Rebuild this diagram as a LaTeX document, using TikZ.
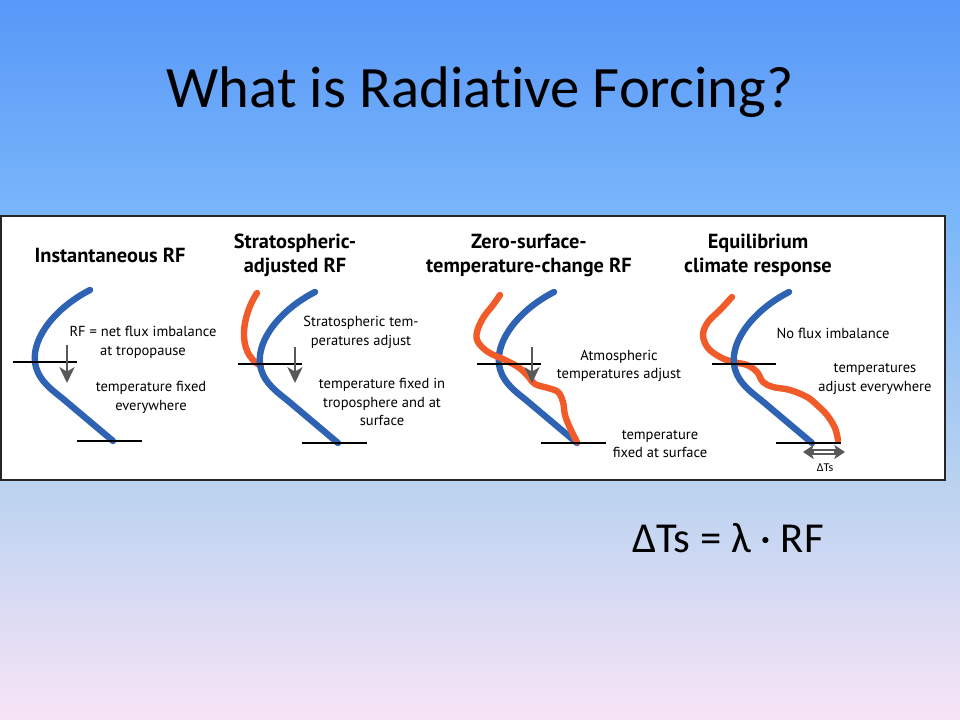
\documentclass[tikz,border=0pt]{standalone}
\usepackage{fontspec}
\setmainfont{Carlito}[Ligatures=CommonOff]
\newfontfamily\ptsans{PT Sans}
\usetikzlibrary{arrows.meta}
\definecolor{bgA}{RGB}{88,152,248}
\definecolor{bgB}{RGB}{122,182,250}
\definecolor{bgC}{RGB}{185,210,240}
\definecolor{bgD}{RGB}{248,228,246}
\definecolor{cblue}{RGB}{46,99,180}
\definecolor{corange}{RGB}{241,90,41}
\definecolor{agray}{RGB}{88,89,91}
\tikzset{
  bluecurve/.style={draw=cblue, line width=4.8pt, line cap=round},
  orangecurve/.style={draw=corange, line width=4.8pt, line cap=round},
  hline/.style={draw=black, line width=1.5pt},
  downarrow/.style={draw=agray, line width=1pt, -{Stealth[length=12pt,width=11.5pt,inset=3.5pt]}},
  ptitle/.style={font=\ptsans\bfseries\fontsize{15.3}{18}\selectfont, align=center, inner sep=0pt},
  ptext/.style={font=\ptsans\fontsize{10.9}{14}\selectfont, align=center, inner sep=0pt},
}
\begin{document}
\begin{tikzpicture}[x=0.75pt,y=-0.75pt]
\useasboundingbox (0,0) rectangle (960,720);
\shade[top color=bgA,bottom color=bgB] (0,0) rectangle (960,216);
\shade[top color=bgB,bottom color=bgC] (0,215.5) rectangle (960,480.5);
\shade[top color=bgC,bottom color=bgD] (0,480) rectangle (960,720);
\node[font=\fontsize{44}{52}\selectfont] (title) at (480,92) {What is Radiative Forcing?};
\draw[draw=black!85, line width=1.2pt, fill=white] (1,216) rectangle (945,480);
% panel 1
\begin{scope}[shift={(0,0)}]
  \draw[bluecurve] (90,290) .. controls (55,308) and (32,338) .. (35,362) .. controls (37,378) and (48,387) .. (62,398) -- (113,441);
  \draw[hline] (13,362) -- (77,362);
  \draw[hline] (77,441) -- (142,441);
  \coordinate (a1s) at (67,345); \coordinate (a1e) at (67,383);
  \draw[downarrow] (a1s) -- (a1e);
  \node[ptitle] (t1) at (110,255) {Instantaneous RF};
  \node[ptext] (x1a) at (143,342.5) {RF = net flux imbalance\\at tropopause};
  \node[ptext] (x1b) at (151,397.5) {temperature fixed\\everywhere};
\end{scope}
% panel 2
\begin{scope}[shift={(225,2)}]
  \draw[orangecurve] (32,291) .. controls (18,312) and (10,350) .. (36,364);
  \draw[bluecurve] (90,290) .. controls (55,308) and (32,338) .. (35,362) .. controls (37,378) and (48,387) .. (62,398) -- (113,441);
  \draw[hline] (13,362) -- (77,362);
  \draw[hline] (77,441) -- (142,441);
  \coordinate (a2s) at (70,345); \coordinate (a2e) at (70,381);
  \draw[downarrow] (a2s) -- (a2e);
  \node[ptitle] (t2) at (70,253) {Stratospheric-\\adjusted RF};
  \node[ptext] (x2a) at (136,330.5) {Stratospheric tem-\\peratures adjust};
  \node[ptext] (x2b) at (157,400) {temperature fixed in\\troposphere and at\\surface};
\end{scope}
% panel 3
\begin{scope}[shift={(464,2)}]
  \draw[bluecurve] (90,290) .. controls (55,308) and (32,338) .. (35,362) .. controls (37,378) and (48,387) .. (62,398) -- (113,441);
  \draw[orangecurve] plot[smooth, tension=0.6] coordinates {(36,293) (29,303) (19,316) (13,330) (14,340) (24,350) (41,358) (54,365) (63,373) (71,382) (84,386) (94,390) (99,400) (101,413) (106,426) (113,440)};
  \draw[hline] (13,362) -- (77,362);
  \draw[hline] (77,441) -- (142,441);
  \coordinate (a3s) at (68,345); \coordinate (a3e) at (68,381);
  \draw[downarrow] (a3s) -- (a3e);
  \node[ptitle] (t3) at (65,253) {Zero-surface-\\temperature-change RF};
  \node[ptext] (x3a) at (155,364) {Atmospheric\\temperatures adjust};
  \node[ptext] (x3b) at (196,442) {temperature\\fixed at surface};
\end{scope}
% panel 4
\begin{scope}[shift={(699,2)}]
  \draw[orangecurve] plot[smooth, tension=0.6] coordinates {(33,295) (21,308) (9,320) (4,333) (9,346) (21,355) (34,360) (48,363) (58,370) (64,380) (74,385) (91,388) (108,395) (118,403) (128,413) (136,426) (139,438)};
  \draw[bluecurve] (90,290) .. controls (55,308) and (32,338) .. (35,362) .. controls (37,378) and (48,387) .. (62,398) -- (113,441);
  \draw[hline] (13,362) -- (77,362);
  \draw[hline] (77,441) -- (142,441);
  \coordinate (d1) at (104,450); \coordinate (d2) at (146,450);
  \coordinate (d1i) at (115,450); \coordinate (d2i) at (135,450);
  \draw[draw=agray, line width=4pt, {Stealth[length=8pt,width=10.5pt,inset=2pt]}-{Stealth[length=8pt,width=10.5pt,inset=2pt]}] (d1) -- (d2);
  \draw[draw=white, line width=1.2pt] (d1i) -- (d2i);
  \node[font=\fontsize{9}{10}\selectfont, inner sep=0pt] (dts) at (126,466) {ΔTs};
  \node[ptitle] (t4) at (59,253) {Equilibrium\\climate response};
  \node[ptext] (x4a) at (134,331) {No flux imbalance};
  \node[ptext] (x4b) at (176,377) {temperatures\\adjust everywhere};
\end{scope}
\node[font=\fontsize{32}{38}\selectfont] (eq) at (728,538) {ΔTs = λ · RF};
\end{tikzpicture}
\end{document}
